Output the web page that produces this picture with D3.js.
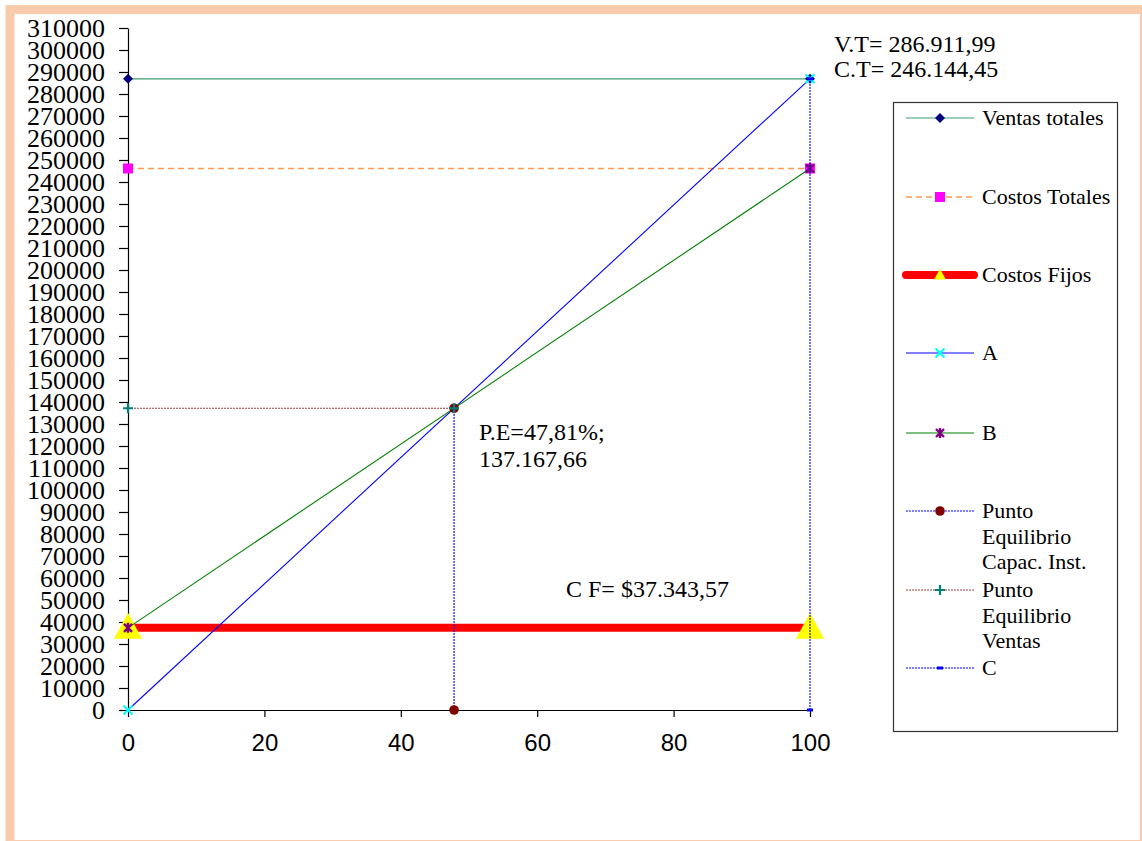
<!DOCTYPE html>
<html>
<head>
<meta charset="utf-8">
<script src="https://cdn.jsdelivr.net/npm/d3@7"></script>
<style>
body { margin: 0; background: #fff; }
svg { display: block; }
</style>
</head>
<body>
<script>
// datos del punto de equilibrio
var capacidad = [0, 100],
	ventasTotales = [286911.99, 286911.99],
	costosTotales = [246144.45, 246144.45],
	costosFijos = [37343.57, 37343.57],
	serieA = [0, 286911.99],
	serieB = [37343.57, 246144.45],
	peCapacX = [47.81, 47.81],
	peCapacY = [0, 137167.66],
	peVentasX = [0, 47.81],
	peVentasY = [137167.66, 137167.66],
	serieCX = [100, 100],
	serieCY = [0, 286911.99],
	xTicks = [0, 20, 40, 60, 80, 100],
	yTicks = d3.range(0, 310001, 10000);

var w = 1142,
	h = 841;

var svg = d3.select("body")
	.append("svg")
	.attr("width", w)
	.attr("height", h);

// marco
svg.append("rect")
	.attr("x", 10).attr("y", 9.5)
	.attr("width", 1134.5).attr("height", 835)
	.attr("fill", "#fff")
	.attr("stroke", "#F8CBAD")
	.attr("stroke-width", 9);

var x = d3.scaleLinear().domain([0, 100]).range([128, 810]),
	y = d3.scaleLinear().domain([0, 310000]).range([710, 28]);

var yAxis = svg.append("g")
	.attr("transform", "translate(128,0)")
	.call(d3.axisLeft(y).tickValues(yTicks).tickSize(9).tickSizeOuter(0).tickPadding(14).tickFormat(d3.format("d")));
yAxis.selectAll("text")
	.style("font-family", "'Liberation Serif', 'Times New Roman', serif")
	.style("font-size", "26px")
	.attr("fill", "#000");

var xAxis = svg.append("g")
	.attr("transform", "translate(0,710)")
	.call(d3.axisBottom(x).tickValues(xTicks).tickSize(7).tickSizeOuter(0).tickPadding(17));
xAxis.selectAll("text")
	.style("font-family", "'Liberation Sans', Arial, sans-serif")
	.style("font-size", "24px")
	.attr("fill", "#000");
svg.selectAll(".domain, .tick line").attr("stroke", "#000").attr("stroke-width", 1.2);

// simbolos de marcador
function marker(g, type, cx, cy, s) {
	s = s || 1;
	if (type == "diamond") {
		g.append("path").attr("d", "M" + cx + "," + (cy - 5) + "L" + (cx + 5) + "," + cy + "L" + cx + "," + (cy + 5) + "L" + (cx - 5) + "," + cy + "Z").attr("fill", "#000080");
	} else if (type == "square") {
		g.append("rect").attr("x", cx - 5 * s).attr("y", cy - 5 * s).attr("width", 10 * s).attr("height", 10 * s).attr("fill", "#FF00FF");
	} else if (type == "triangle") {
		g.append("path").attr("d", "M" + cx + "," + (cy - 15 * s) + "L" + (cx + 14 * s) + "," + (cy + 11 * s) + "L" + (cx - 14 * s) + "," + (cy + 11 * s) + "Z").attr("fill", "#FFFF00");
	} else if (type == "x") {
		g.append("path").attr("d", "M" + (cx - 4.5 * s) + "," + (cy - 4.5 * s) + "L" + (cx + 4.5 * s) + "," + (cy + 4.5 * s) + "M" + (cx + 4.5 * s) + "," + (cy - 4.5 * s) + "L" + (cx - 4.5 * s) + "," + (cy + 4.5 * s)).attr("stroke", "#00FFFF").attr("stroke-width", 2.2);
	} else if (type == "star") {
		g.append("path").attr("d", "M" + (cx - 4 * s) + "," + (cy - 4 * s) + "L" + (cx + 4 * s) + "," + (cy + 4 * s) + "M" + (cx + 4 * s) + "," + (cy - 4 * s) + "L" + (cx - 4 * s) + "," + (cy + 4 * s) + "M" + cx + "," + (cy - 5 * s) + "L" + cx + "," + (cy + 5 * s)).attr("stroke", "#800080").attr("stroke-width", 2.4);
	} else if (type == "circle") {
		g.append("circle").attr("cx", cx).attr("cy", cy).attr("r", 4.8 * s).attr("fill", "#800000");
	} else if (type == "plus") {
		g.append("path").attr("d", "M" + (cx - 5 * s) + "," + cy + "L" + (cx + 5 * s) + "," + cy + "M" + cx + "," + (cy - 5 * s) + "L" + cx + "," + (cy + 5 * s)).attr("stroke", "#008080").attr("stroke-width", 2.2);
	} else if (type == "dash") {
		g.append("rect").attr("x", cx - 3).attr("y", cy - 1.5).attr("width", 6).attr("height", 3).attr("fill", "#0000FF");
	}
}

var series = [
	{ name: ["Ventas totales"], xs: capacidad, ys: ventasTotales, color: "#3C9D6E", width: 1.2, dash: null, mk: "diamond", ly: 118 },
	{ name: ["Costos Totales"], xs: capacidad, ys: costosTotales, color: "#FF9A50", width: 1.6, dash: "6,4", mk: "square", ly: 197 },
	{ name: ["Costos Fijos"], xs: capacidad, ys: costosFijos, color: "#FF0000", width: 8, dash: null, mk: "triangle", ly: 275, big: 1 },
	{ name: ["A"], xs: capacidad, ys: serieA, color: "#0000FF", width: 1.1, dash: null, mk: "x", ly: 353 },
	{ name: ["B"], xs: capacidad, ys: serieB, color: "#008000", width: 1.1, dash: null, mk: "star", ly: 433 },
	{ name: ["Punto", "Equilibrio", "Capac. Inst."], xs: peCapacX, ys: peCapacY, color: "#0000FF", width: 1.1, dash: "2,1", mk: "circle", ly: 511 },
	{ name: ["Punto", "Equilibrio", "Ventas"], xs: peVentasX, ys: peVentasY, color: "#A0403F", width: 1.1, dash: "2,1", mk: "plus", ly: 590 },
	{ name: ["C"], xs: serieCX, ys: serieCY, color: "#0000FF", width: 1.1, dash: "2,1", mk: "dash", ly: 668 }
];

var line = d3.line().x(d => x(d[0])).y(d => y(d[1]));
var plot = svg.append("g");

series.forEach(s => {
	var pts = s.xs.map((v, i) => [v, s.ys[i]]);
	plot.append("path")
		.attr("d", line(pts))
		.attr("fill", "none")
		.attr("stroke", s.color)
		.attr("stroke-width", s.width)
		.attr("stroke-dasharray", s.dash);
	var mg = plot.append("g");
	pts.forEach(p => marker(mg, s.mk, x(p[0]), y(p[1]), 1));
});

// leyenda
var legend = svg.append("g");
legend.append("rect")
	.attr("x", 893.5).attr("y", 102.5)
	.attr("width", 224).attr("height", 629)
	.attr("fill", "#fff")
	.attr("stroke", "#333")
	.attr("stroke-width", 1.2);

series.forEach(s => {
	legend.append("line")
		.attr("x1", 906).attr("x2", 974)
		.attr("y1", s.ly).attr("y2", s.ly)
		.attr("stroke", s.color)
		.attr("stroke-width", s.width)
		.attr("stroke-linecap", s.big ? "round" : "butt")
		.attr("stroke-dasharray", s.dash);
	marker(legend, s.mk, 940, s.ly, s.big ? 0.42 : 1);
	var t = legend.append("text")
		.attr("x", 982)
		.attr("y", s.ly + 7)
		.style("font-family", "'Liberation Serif', 'Times New Roman', serif")
		.style("font-size", "22px");
	s.name.forEach((n, i) => {
		t.append("tspan").attr("x", 982).attr("dy", i ? 25.5 : 0).text(n);
	});
});

// anotaciones
var notas = [
	{ t: "V.T= 286.911,99", x: 834, y: 52 },
	{ t: "C.T= 246.144,45", x: 834, y: 77 },
	{ t: "P.E=47,81%;", x: 479, y: 440 },
	{ t: "137.167,66", x: 479, y: 467 },
	{ t: "C F= $37.343,57", x: 566, y: 597 }
];
svg.selectAll(".nota")
	.data(notas)
	.enter()
	.append("text")
	.attr("class", "nota")
	.attr("x", d => d.x)
	.attr("y", d => d.y)
	.style("font-family", "'Liberation Serif', 'Times New Roman', serif")
	.style("font-size", "24px")
	.text(d => d.t);
</script>
</body>
</html>
